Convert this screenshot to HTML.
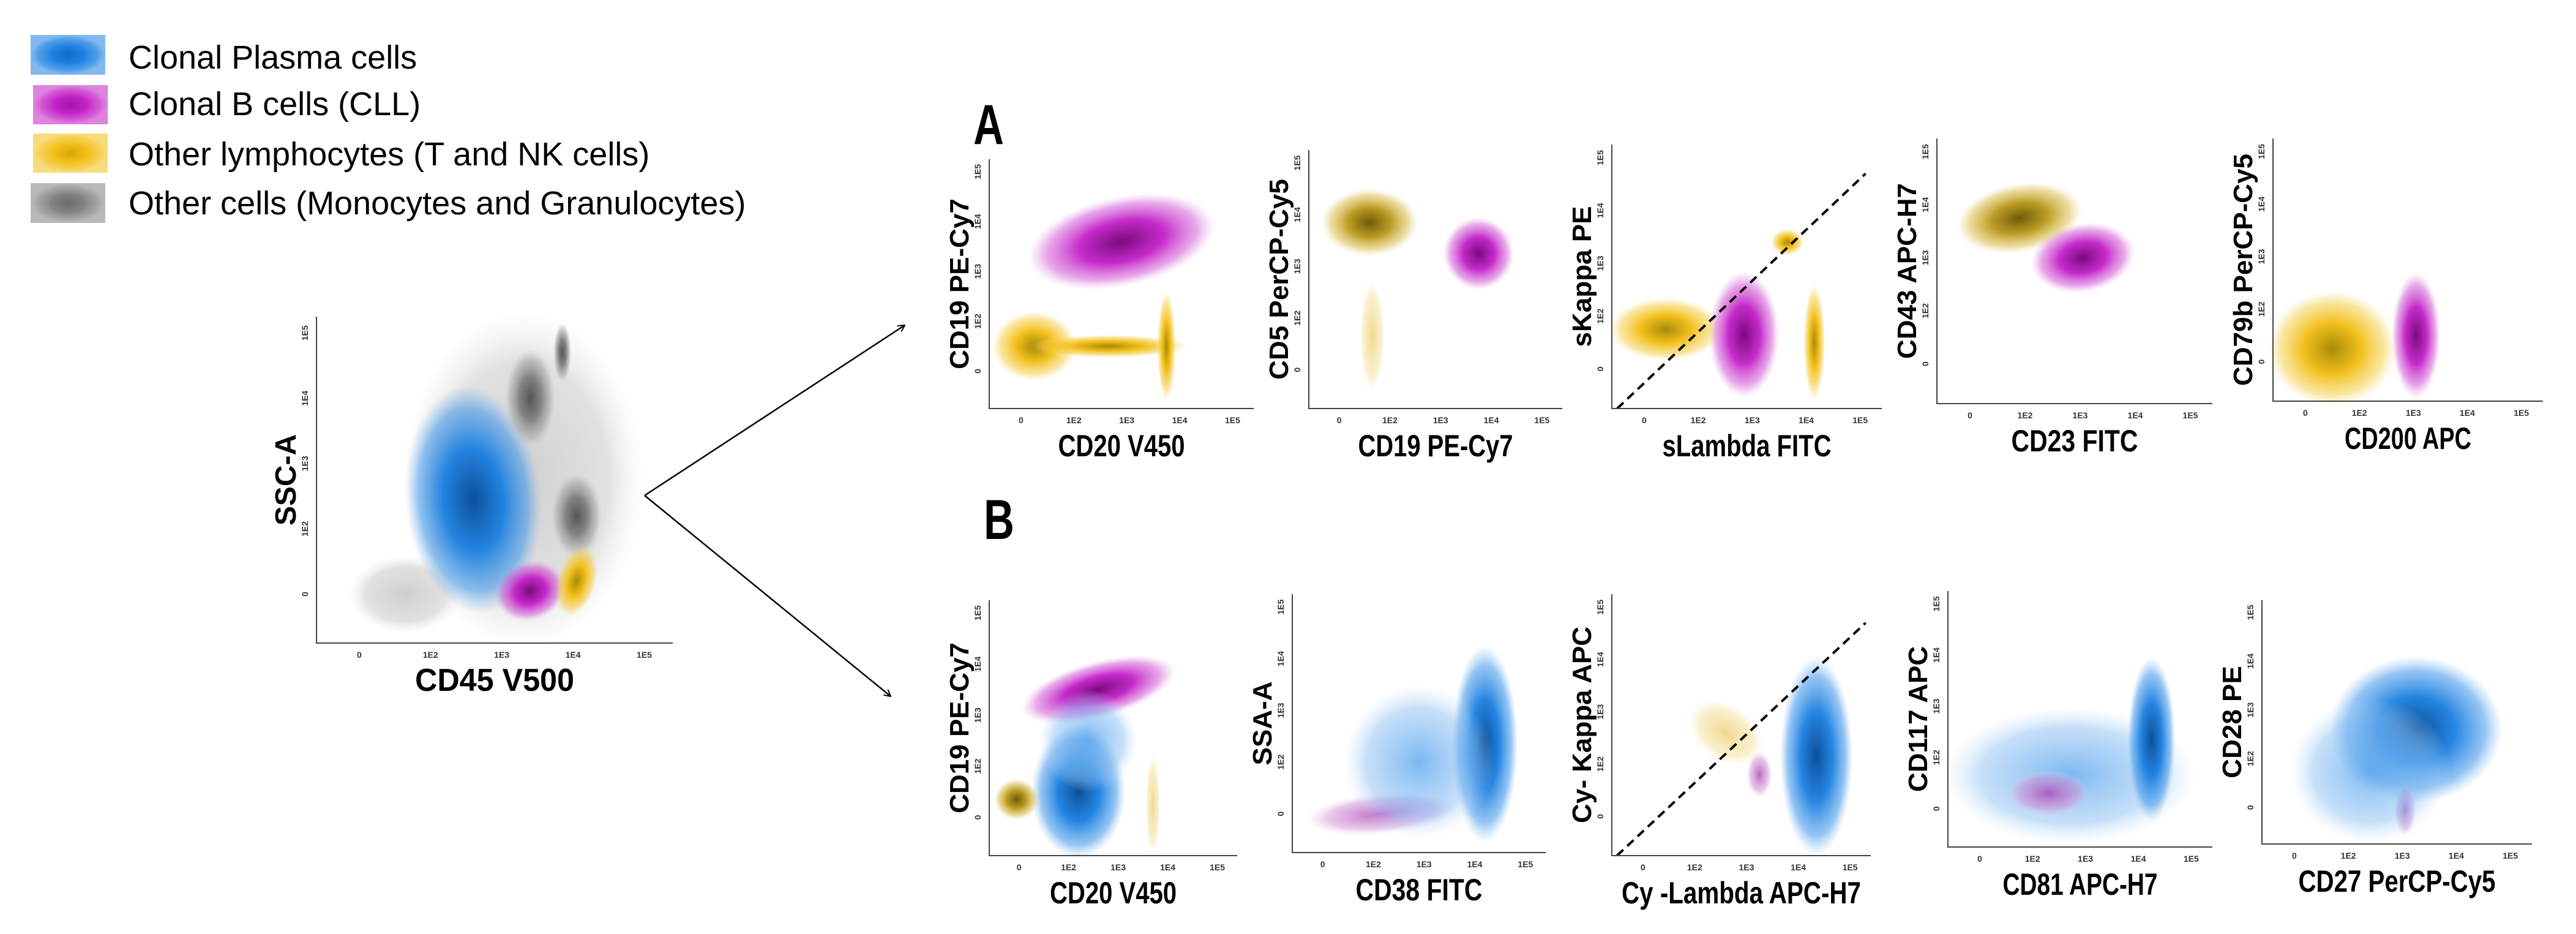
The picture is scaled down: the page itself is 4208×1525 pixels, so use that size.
<!DOCTYPE html>
<html><head><meta charset="utf-8"><style>
html,body{margin:0;padding:0;background:#fff;}
svg{display:block;}
text{font-family:"Liberation Sans",sans-serif;}
</style></head><body>
<svg id="fig" width="4208" height="1525" viewBox="0 0 4208 1525" xmlns="http://www.w3.org/2000/svg">
<defs>
<radialGradient id="g-blue"><stop offset="0" stop-color="#0b4f9a"/><stop offset="0.45" stop-color="#1a7fe0" stop-opacity="0.95"/><stop offset="0.8" stop-color="#3d95ea" stop-opacity="0.55"/><stop offset="1" stop-color="#6fb0f0" stop-opacity="0"/></radialGradient>
<radialGradient id="g-mag"><stop offset="0" stop-color="#7a0a7e"/><stop offset="0.45" stop-color="#c21fc7" stop-opacity="0.95"/><stop offset="0.8" stop-color="#d050d4" stop-opacity="0.5"/><stop offset="1" stop-color="#e090e0" stop-opacity="0"/></radialGradient>
<radialGradient id="g-yel"><stop offset="0" stop-color="#a88a08"/><stop offset="0.45" stop-color="#f2bd12" stop-opacity="0.95"/><stop offset="0.8" stop-color="#f5cc40" stop-opacity="0.5"/><stop offset="1" stop-color="#f8dc80" stop-opacity="0"/></radialGradient>
<radialGradient id="g-olive"><stop offset="0" stop-color="#6e5a08"/><stop offset="0.45" stop-color="#b8981a" stop-opacity="0.95"/><stop offset="0.8" stop-color="#d8b840" stop-opacity="0.5"/><stop offset="1" stop-color="#e8d080" stop-opacity="0"/></radialGradient>
<radialGradient id="g-gray"><stop offset="0" stop-color="#555"/><stop offset="0.45" stop-color="#808080" stop-opacity="0.95"/><stop offset="0.8" stop-color="#a0a0a0" stop-opacity="0.5"/><stop offset="1" stop-color="#bbb" stop-opacity="0"/></radialGradient>
<radialGradient id="g-lgray"><stop offset="0" stop-color="#cfcfcf"/><stop offset="0.7" stop-color="#dcdcdc" stop-opacity="0.85"/><stop offset="1" stop-color="#eee" stop-opacity="0"/></radialGradient>
<radialGradient id="g-lblue"><stop offset="0" stop-color="#5aa6ee" stop-opacity="0.8"/><stop offset="0.7" stop-color="#8cc0f2" stop-opacity="0.5"/><stop offset="1" stop-color="#cfe4fa" stop-opacity="0"/></radialGradient>
<radialGradient id="g-lmag"><stop offset="0" stop-color="#b040b4" stop-opacity="0.8"/><stop offset="0.7" stop-color="#d090d4" stop-opacity="0.5"/><stop offset="1" stop-color="#f0d0f0" stop-opacity="0"/></radialGradient>
<radialGradient id="g-lyel"><stop offset="0" stop-color="#e8c040" stop-opacity="0.6"/><stop offset="0.7" stop-color="#f0d880" stop-opacity="0.4"/><stop offset="1" stop-color="#f8ecc0" stop-opacity="0"/></radialGradient>
<marker id="arrow" markerWidth="12" markerHeight="12" refX="11" refY="6" orient="auto" markerUnits="userSpaceOnUse"><path d="M0,0 L11,6 L0,12" fill="none" stroke="#000" stroke-width="2"/></marker>
</defs>

<g>
  <g><rect x="50" y="57" width="122" height="65" fill="url(#g-blue)"/><rect x="50" y="57" width="122" height="65" fill="#1a7fe0" opacity="0.55"/><text x="210" y="112" font-size="54">Clonal Plasma cells</text></g>
  <g><rect x="54" y="139" width="122" height="64" fill="url(#g-mag)"/><rect x="54" y="139" width="122" height="64" fill="#c21fc7" opacity="0.55"/><text x="210" y="188" font-size="54">Clonal B cells (CLL)</text></g>
  <g><rect x="54" y="218" width="122" height="64" fill="url(#g-yel)"/><rect x="54" y="218" width="122" height="64" fill="#f2bd12" opacity="0.55"/><text x="210" y="270" font-size="54">Other lymphocytes (T and NK cells)</text></g>
  <g><rect x="50" y="299" width="122" height="65" fill="url(#g-gray)"/><rect x="50" y="299" width="122" height="65" fill="#808080" opacity="0.55"/><text x="210" y="350" font-size="54">Other cells  (Monocytes and Granulocytes)</text></g>
</g>

<text x="1590" y="235" font-size="92" font-weight="bold" transform="translate(1590 0) scale(0.75 1) translate(-1590 0)">A</text>
<text x="1607" y="880" font-size="92" font-weight="bold" transform="translate(1607 0) scale(0.75 1) translate(-1607 0)">B</text>

<g>
  <line x1="1053" y1="809" x2="1478" y2="531" stroke="#000" stroke-width="2.5" marker-end="url(#arrow)"/>
  <line x1="1053" y1="809" x2="1455" y2="1137" stroke="#000" stroke-width="2.5" marker-end="url(#arrow)"/>
</g>

<g id="plots"></g>
</svg>

<script>
// Panel geometry (layout)
const panelName=["main","a1","a2","a3","a4","a5","b1","b2","b3","b4","b5"];
const panelX0=[517,1616,2138,2633,3164,3713,1616,2111,2633,3182,3695];
const panelX1=[1099,2048,2552,3074,3614,4154,2021,2525,3056,3614,4136];
const panelYTop=[517,260,245,236,226,226,980,970,970,965,980];
const panelYBot=[1050,667,667,667,659,655,1397,1392,1397,1383,1378];
const yTitle=["SSC-A","CD19 PE-Cy7","CD5 PerCP-Cy5","sKappa PE","CD43  APC-H7","CD79b PerCP-Cy5","CD19 PE-Cy7","SSA-A","Cy- Kappa APC","CD117 APC","CD28 PE"];
const xTitle=["CD45  V500","CD20 V450","CD19 PE-Cy7","sLambda FITC","CD23 FITC","CD200 APC","CD20 V450","CD38 FITC","Cy -Lambda APC-H7","CD81 APC-H7","CD27 PerCP-Cy5"];
const xTickLabels=["0","1E2","1E3","1E4","1E5"];
const yTickLabels=["0","1E2","1E3","1E4","1E5"];

// Populations (fractional axis units: u along x, v along y)
const popPanel=[0,0,0,0,0,0,0,0, 1,1,1,1, 2,2,2, 3,3,3,3, 4,4, 5,5, 6,6,6,6,6, 7,7,7, 8,8,8, 9,9,9, 10,10,10];
const popU=   [0.58,0.25,0.44,0.60,0.73,0.69,0.60,0.73, 0.50,0.17,0.45,0.67, 0.24,0.67,0.25, 0.20,0.49,0.75,0.65, 0.30,0.53, 0.22,0.53, 0.44,0.36,0.40,0.11,0.66, 0.76,0.35,0.50, 0.79,0.44,0.57, 0.46,0.38,0.77, 0.57,0.53,0.40];
const popV=   [0.50,0.15,0.44,0.75,0.39,0.89,0.16,0.19, 0.67,0.25,0.25,0.25, 0.72,0.60,0.28, 0.30,0.28,0.25,0.63, 0.70,0.55, 0.20,0.25, 0.65,0.25,0.45,0.22,0.20, 0.42,0.15,0.35, 0.38,0.47,0.31, 0.28,0.21,0.42, 0.47,0.14,0.30];
const popRU=  [0.34,0.16,0.19,0.07,0.07,0.025,0.10,0.055, 0.36,0.16,0.30,0.035, 0.19,0.14,0.05, 0.21,0.13,0.04,0.06, 0.23,0.19, 0.24,0.09, 0.32,0.19,0.2,0.09,0.03, 0.13,0.30,0.3, 0.14,0.11,0.05, 0.48,0.16,0.09, 0.32,0.04,0.3];
const popRV=  [0.52,0.12,0.35,0.15,0.13,0.09,0.09,0.11, 0.18,0.14,0.045,0.22, 0.13,0.14,0.22, 0.12,0.24,0.22,0.05, 0.13,0.13, 0.22,0.24, 0.11,0.26,0.2,0.08,0.2, 0.38,0.08,0.3, 0.38,0.16,0.09, 0.27,0.09,0.32, 0.30,0.11,0.3];
const popColor=["lgray","lgray","blue","gray","gray","gray","mag","yel", "mag","yel","yel","yel", "olive","mag","lyel", "yel","mag","yel","yel", "olive","mag", "yel","mag", "mag","blue","lblue","olive","lyel", "blue","lmag","lblue", "blue","lyel","lmag", "lblue","lmag","blue", "blue","lmag","lblue"];
const popRot= [0,0,-5,0,0,0,-20,15, -12,0,0,0, 0,-20,0, 0,0,0,0, -10,-10, 0,0, -15,0,0,0,0, 0,-5,0, 0,-55,0, 0,0,0, 0,0,0];

// Dashed diagonal gates (panels with diagonal)
const diagPanel=[3,8];
const diagU0=[0.02,0.02], diagV0=[0.0,0.0], diagU1=[0.94,0.98], diagV1=[0.89,0.89];

const NS="http://www.w3.org/2000/svg";
const root=document.getElementById('plots');
function xs(p,u){return panelX0[p]+u*(panelX1[p]-panelX0[p]);}
function ys(p,v){return panelYBot[p]-v*(panelYBot[p]-panelYTop[p]);}
function mk(tag,attrs,parent){const e=document.createElementNS(NS,tag);for(const k in attrs)e.setAttribute(k,attrs[k]);parent.appendChild(e);return e;}

for(let p=0;p<panelName.length;p++){
  const g=mk('g',{},root);
  
  
  const marks=mk('g',{},g);
  
  
  for(let i=0;i<popPanel.length;i++){
    if(popPanel[i]!==p)continue;
    const cx=xs(p,popU[i]), cy=ys(p,popV[i]);
    const rx=popRU[i]*(panelX1[p]-panelX0[p]), ry=popRV[i]*(panelYBot[p]-panelYTop[p]);
    const el=mk('ellipse',{cx:cx,cy:cy,rx:rx,ry:ry,fill:'url(#g-'+popColor[i]+')',transform:'rotate('+popRot[i]+' '+cx+' '+cy+')'},marks);
    
    
  }
  for(let d=0;d<diagPanel.length;d++){
    if(diagPanel[d]!==p)continue;
    const ln=mk('line',{x1:xs(p,diagU0[d]),y1:ys(p,diagV0[d]),x2:xs(p,diagU1[d]),y2:ys(p,diagV1[d]),stroke:'#000','stroke-width':4,'stroke-dasharray':'14 9'},g);
    
    
  }
  const ax=mk('path',{d:'M'+panelX0[p]+','+panelYTop[p]+' L'+panelX0[p]+','+panelYBot[p]+' L'+panelX1[p]+','+panelYBot[p],fill:'none',stroke:'#444','stroke-width':2},g);
  
  
  for(let t=0;t<xTickLabels.length;t++){
    const u=0.12+t*0.2;
    const tx=mk('text',{x:xs(p,u),y:panelYBot[p]+24,'font-size':14,'font-weight':'bold','text-anchor':'middle',fill:'#333'},g);
    tx.textContent=xTickLabels[t];
    
    
    const ty=mk('text',{x:0,y:0,'font-size':14,'font-weight':'bold','text-anchor':'middle',fill:'#333',transform:'translate('+(panelX0[p]-14)+' '+ys(p,0.15+t*0.2)+') rotate(-90)'},g);
    ty.textContent=yTickLabels[t];
    
    
  }
  const xcx=(panelX0[p]+panelX1[p])/2;
  const xt=mk('text',{x:xcx,y:panelYBot[p]+78,'font-size':p===0?52:50,'font-weight':'bold','text-anchor':'middle',textLength:xTitle[p].length*(p===0?26:23),lengthAdjust:'spacingAndGlyphs'},g);
  xt.textContent=xTitle[p];
  
  
  const ycy=(panelYTop[p]+panelYBot[p])/2;
  const yt=mk('text',{x:0,y:0,'font-size':p===0?48:44,'font-weight':'bold','text-anchor':'middle',transform:'translate('+(panelX0[p]-34)+' '+ycy+') rotate(-90)'},g);
  yt.textContent=yTitle[p];
  
  
}
</script>
</body></html>
